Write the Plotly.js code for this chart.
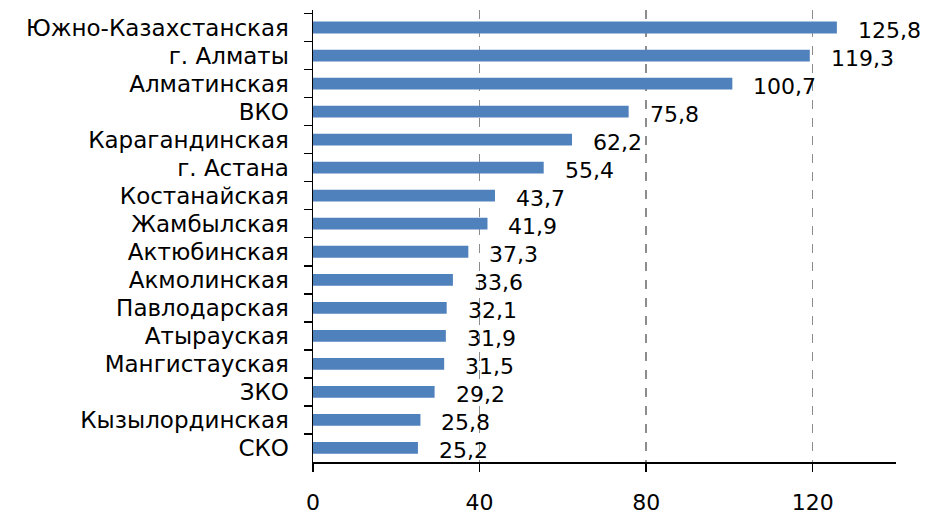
<!DOCTYPE html>
<html>
<head>
<meta charset="utf-8">
<script src="https://cdn.plot.ly/plotly-3.0.1.min.js"></script>
<style>html,body{margin:0;padding:0;background:#fff;}</style>
</head>
<body>
<div id="chart" style="width:930px;height:516px;"></div>
<script>
const regions = ["Южно-Казахстанская","г. Алматы","Алматинская","ВКО","Карагандинская","г. Астана","Костанайская","Жамбылская","Актюбинская","Акмолинская","Павлодарская","Атырауская","Мангистауская","ЗКО","Кызылординская","СКО"];
const values = [125.8,119.3,100.7,75.8,62.2,55.4,43.7,41.9,37.3,33.6,32.1,31.9,31.5,29.2,25.8,25.2];
const xTicks = [0,40,80,120];

const font = "DejaVu Sans, Verdana, sans-serif";
const fmt = v => v.toFixed(1).replace('.', ',');

const trace = {
  type: 'bar',
  orientation: 'h',
  x: values,
  y: regions,
  marker: {color: '#4F81BD', line: {width: 0}},
  hoverinfo: 'none'
};

const annotations = values.map((v, i) => ({
  x: v, y: regions[i], xref: 'x', yref: 'y',
  text: fmt(v), showarrow: false,
  xanchor: 'left', yanchor: 'middle',
  xshift: 19, yshift: -3,
  font: {family: font, size: 22, color: '#000'}
}));

const layout = {
  width: 930, height: 516,
  margin: {l: 313, r: 34, t: 10, b: 54},
  paper_bgcolor: '#fff', plot_bgcolor: '#fff',
  showlegend: false,
  bargap: 0.58,
  font: {family: font, size: 22, color: '#000'},
  xaxis: {
    range: [0, 140],
    tickvals: xTicks,
    ticktext: xTicks.map(String),
    showgrid: true, gridcolor: '#8c8c8c', gridwidth: 1.5, griddash: 'dash',
    zeroline: false,
    showline: true, linecolor: '#000', linewidth: 1.5,
    ticks: 'outside', ticklen: 8, tickwidth: 1.5, tickcolor: '#000',
    ticklabelstandoff: 12,
    tickfont: {family: font, size: 22, color: '#000'},
    fixedrange: true
  },
  yaxis: {
    type: 'category',
    autorange: 'reversed',
    showgrid: false, zeroline: false,
    showline: true, linecolor: '#000', linewidth: 1.5,
    ticks: 'outside', tickson: 'boundaries', ticklen: 8, tickwidth: 1.5, tickcolor: '#000',
    ticklabelstandoff: 18,
    tickfont: {family: font, size: 23, color: '#000'},
    fixedrange: true
  },
  annotations: annotations
};

Plotly.newPlot('chart', [trace], layout, {displayModeBar: false, staticPlot: true});
</script>
</body>
</html>
